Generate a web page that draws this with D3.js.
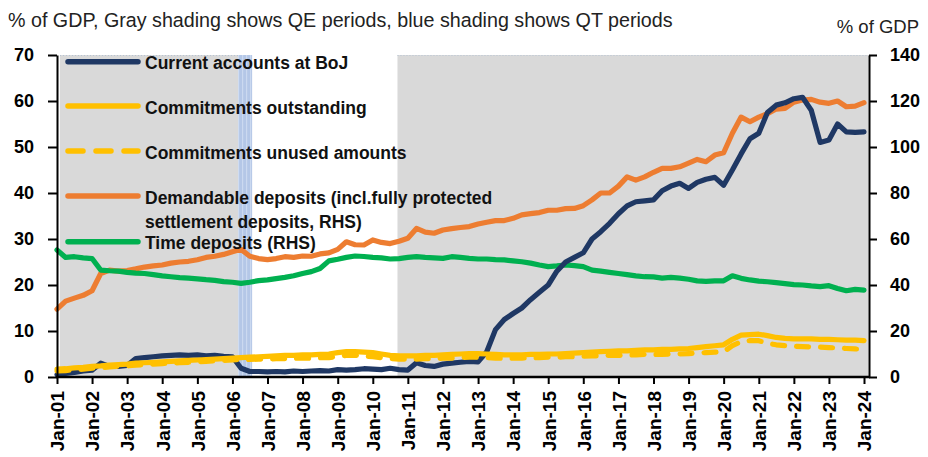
<!DOCTYPE html>
<html><head><meta charset="utf-8">
<script src="https://cdn.jsdelivr.net/npm/d3@7"></script>
<style>
html,body{margin:0;padding:0;background:#fff;}
svg{display:block;font-family:"Liberation Sans",Arial,Helvetica,sans-serif;}
</style></head><body>
<svg id="chart" width="928" height="457"></svg>
<script>
// ---------------- DATA (quarterly: Jan, Apr, Jul, Oct; 2001-01 .. 2024-01) ----------------
const startDate = "2001-01-01";
const endDate = "2024-01-01";

// Current accounts at BoJ (% of GDP, LHS)
const currentAccounts = [
  0.5, 0.8, 1.0, 1.3,   1.5, 3.0, 2.3, 2.3,   2.5, 4.0, 4.2, 4.4,   4.6, 4.7, 4.8, 4.7,
  4.8, 4.6, 4.7, 4.5,   4.4, 1.9, 1.2, 1.2,   1.1, 1.2, 1.1, 1.3,   1.2, 1.3, 1.4, 1.3,
  1.6, 1.5, 1.6, 1.8,   1.7, 1.6, 1.9, 1.6,   1.5, 3.1, 2.5, 2.3,   2.8, 3.0, 3.2, 3.4,
  3.3, 5.5, 10.3, 12.5, 13.8, 15.0, 16.8, 18.4, 20.0, 23.0, 25.0, 26.0, 27.0, 30.0, 31.6, 33.4,
  35.5, 37.2, 38.1, 38.3, 38.5, 40.5, 41.5, 42.1, 41.0, 42.3, 43.0, 43.4, 41.7, 45.0, 48.5, 51.8,
  53.0, 57.5, 59.1, 59.6, 60.5, 60.8, 58.0, 51.0, 51.5, 55.0, 53.3, 53.2, 53.3
];
// Commitments outstanding (% of GDP, LHS)
const commitmentsOutstanding = [
  1.7, 1.8, 2.0, 2.1,   2.3, 2.4, 2.6, 2.7,   2.8, 3.0, 3.1, 3.2,   3.3, 3.4, 3.5, 3.6,
  3.7, 3.8, 3.9, 4.0,   4.1, 4.2, 4.3, 4.4,   4.5, 4.6, 4.7, 4.7,   4.8, 4.8, 4.9, 5.0,
  5.3, 5.5, 5.5, 5.4,   5.3, 5.0, 4.7, 4.6,   4.6, 4.6, 4.7, 4.7,   4.8, 4.9, 5.0, 5.1,
  5.1, 5.0, 4.9, 4.8,   4.8, 4.8, 4.9, 4.9,   5.0, 5.0, 5.1, 5.2,   5.3, 5.4, 5.5, 5.6,
  5.7, 5.7, 5.8, 5.9,   5.9, 6.0, 6.0, 6.1,   6.2, 6.4, 6.6, 6.8,   7.0, 8.2, 9.1, 9.2,
  9.3, 9.0, 8.6, 8.4,   8.3, 8.3, 8.3, 8.2,   8.2, 8.1, 8.0, 8.0,   7.9
];
// Commitments unused amounts (% of GDP, LHS)
const commitmentsUnused = [
  1.3, 1.4, 1.6, 1.7,   1.9, 2.0, 2.2, 2.3,   2.4, 2.6, 2.7, 2.8,   2.9, 3.0, 3.1, 3.2,
  3.3, 3.4, 3.5, 3.6,   3.7, 3.8, 3.8, 3.9,   3.9, 4.0, 4.0, 4.1,   4.1, 4.1, 4.2, 4.2,
  4.5, 4.7, 4.7, 4.6,   4.4, 4.2, 4.0, 3.9,   3.9, 3.9, 4.0, 4.0,   4.1, 4.1, 4.2, 4.3,
  4.3, 4.2, 4.1, 4.1,   4.1, 4.1, 4.2, 4.2,   4.3, 4.3, 4.4, 4.4,   4.5, 4.6, 4.6, 4.7,
  4.7, 4.8, 4.8, 4.9,   4.9, 4.9, 5.0, 5.0,   5.1, 5.2, 5.3, 5.4,   5.5, 6.8, 7.7, 7.9,
  7.9, 7.3, 7.0, 6.8,   6.7, 6.6, 6.5, 6.5,   6.4, 6.3, 6.2, 6.1,   6.0
];
// Demandable deposits incl. fully protected settlement deposits (% of GDP, RHS)
const demandableDeposits = [
  29.5, 33.0, 34.3, 35.5,  37.5, 45.0, 46.5, 46.0,  46.3, 47.0, 47.8, 48.3,  48.7, 49.5, 50.0, 50.3,
  51.0, 52.0, 52.5, 53.3,  54.5, 55.5, 52.5, 51.5,  51.0, 51.5, 52.3, 52.0,  52.6, 52.5, 53.5, 54.0,
  55.5, 58.8, 57.5, 57.4,  59.6, 58.5, 58.0, 59.0,  60.3, 64.6, 63.0, 62.5,  63.9, 64.5, 65.0, 65.4,
  66.5, 67.3, 68.0, 68.0,  69.0, 70.5, 71.0, 71.5,  72.5, 72.5, 73.2, 73.3,  74.5, 77.0, 80.0, 80.0,
  83.0, 87.0, 85.6, 87.0,  89.0, 90.7, 90.7, 91.4,  93.0, 94.6, 93.6, 96.5,  97.5, 106.0, 113.0, 111.0,
  113.0, 114.5, 116.5, 116.8, 119.5, 120.4, 120.7, 119.5, 119.0, 120.0, 117.5, 117.8, 119.3
];
// Time deposits (% of GDP, RHS)
const timeDeposits = [
  55.2, 52.0, 52.3, 51.8,  51.5, 46.5, 46.2, 46.0,  45.5, 45.2, 45.0, 44.5,  44.0, 43.6, 43.2, 43.0,
  42.7, 42.3, 42.0, 41.5,  41.2, 40.7, 41.2, 41.9,  42.2, 42.8, 43.3, 44.0,  45.0, 45.8, 47.2, 50.5,
  51.2, 52.0, 52.6, 52.4,  52.0, 51.8, 51.3, 51.5,  52.0, 52.3, 52.0, 51.8,  51.6, 52.3, 52.0, 51.6,
  51.3, 51.3, 51.0, 50.9,  50.5, 50.1, 49.5, 48.7,  48.0, 48.3, 48.7, 48.4,  48.0, 46.5, 46.0, 45.5,
  45.0, 44.5, 44.0, 43.6,  43.5, 43.0, 43.3, 43.0,  42.5, 41.8, 41.6, 41.8,  41.8, 44.0, 42.9, 42.2,
  41.7, 41.4, 41.0, 40.6,  40.2, 40.0, 39.6, 39.3,  39.7, 38.5, 37.5, 38.1,  37.8
];

const xTickLabels = ["Jan-01","Jan-02","Jan-03","Jan-04","Jan-05","Jan-06","Jan-07","Jan-08","Jan-09","Jan-10","Jan-11","Jan-12",
  "Jan-13","Jan-14","Jan-15","Jan-16","Jan-17","Jan-18","Jan-19","Jan-20","Jan-21","Jan-22","Jan-23","Jan-24"];
const leftTicks = [0, 10, 20, 30, 40, 50, 60, 70];
const rightTicks = [0, 20, 40, 60, 80, 100, 120, 140];

const qePeriods = [["2001-02-01", "2006-03-01"], ["2010-09-15", "2024-02-15"]];
const qtPeriods = [["2006-03-01", "2006-07-25"]];

const titleText = "% of GDP, Gray shading shows QE periods, blue shading shows QT periods";
const rightAxisTitle = "% of GDP";

const seriesNames = ["Current accounts at BoJ", "Commitments outstanding", "Commitments unused amounts",
  ["Demandable deposits (incl.fully protected", "settlement deposits, RHS)"], "Time deposits (RHS)"];

// ---------------- LAYOUT ----------------
const L = 57, R = 869, T = 55, B = 377;
const svg = d3.select("#chart");
const parse = d3.utcParse("%Y-%m-%d");
const dates = d3.utcMonth.every(3).range(parse(startDate), d3.utcMonth.offset(parse(endDate), 1));

const x = d3.scaleUtc().domain([parse(startDate), parse(endDate)]).range([L, 864]);
const yL = d3.scaleLinear().domain([0, 70]).range([B, T]);
const yR = d3.scaleLinear().domain([0, 140]).range([B, T]);

// pattern for QT shading
const defs = svg.append("defs");
const pat = defs.append("pattern").attr("id", "qt").attr("patternUnits", "userSpaceOnUse")
  .attr("width", 4).attr("height", 4);
pat.append("rect").attr("width", 4).attr("height", 4).attr("fill", "#b4c7e7");
pat.append("rect").attr("x", 2).attr("width", 1.2).attr("height", 4).attr("fill", "#cbd9f0");

// shading
svg.append("g").selectAll("rect").data(qePeriods).join("rect")
  .attr("x", d => x(parse(d[0]))).attr("y", T)
  .attr("width", d => Math.min(x(parse(d[1])), R) - x(parse(d[0])))
  .attr("height", B - T).attr("fill", "#d9d9d9");
svg.append("g").selectAll("line").data(qePeriods).join("line")
  .attr("x1", d => x(parse(d[0]))).attr("x2", d => Math.min(x(parse(d[1])), R))
  .attr("y1", T + 0.5).attr("y2", T + 0.5)
  .attr("stroke", "#b7c4d4").attr("stroke-width", 1).attr("stroke-dasharray", "1,2");
svg.append("g").selectAll("rect").data(qtPeriods).join("rect")
  .attr("x", d => x(parse(d[0]))).attr("y", T)
  .attr("width", d => x(parse(d[1])) - x(parse(d[0])))
  .attr("height", B - T).attr("fill", "url(#qt)");

// lines
const colors = { navy: "#1f3864", yellow: "#ffc000", orange: "#ed7d31", green: "#00b050" };
function drawLine(vals, scale, color, dashed) {
  const line = d3.line().x((d, i) => x(dates[i])).y(d => scale(d));
  svg.append("path").datum(vals).attr("d", line).attr("fill", "none")
    .attr("stroke", color).attr("stroke-width", 5.2)
    .attr("stroke-linecap", "round").attr("stroke-linejoin", "round")
    .attr("stroke-dasharray", dashed ? "12,12" : null);
}
drawLine(demandableDeposits, yR, colors.orange, false);
drawLine(timeDeposits, yR, colors.green, false);
drawLine(currentAccounts, yL, colors.navy, false);
drawLine(commitmentsUnused, yL, colors.yellow, true);
drawLine(commitmentsOutstanding, yL, colors.yellow, false);

// axes
const fontAxis = "18px";
const gL = svg.append("g").attr("transform", `translate(${L},0)`)
  .call(d3.axisLeft(yL).tickValues(leftTicks).tickSize(9).tickSizeOuter(0).tickPadding(14));
const gR = svg.append("g").attr("transform", `translate(${R},0)`)
  .call(d3.axisRight(yR).tickValues(rightTicks).tickSize(8).tickSizeOuter(0).tickPadding(13));
const gB = svg.append("g").attr("transform", `translate(0,${B})`)
  .call(d3.axisBottom(x).tickValues(xTickLabels.map((s, i) => d3.utcYear.offset(parse(startDate), i)))
    .tickSize(7).tickSizeOuter(0).tickFormat((d, i) => xTickLabels[i]));
[gL, gR, gB].forEach(g => {
  g.selectAll("path.domain").attr("stroke", "#000").attr("stroke-width", 2);
  g.selectAll(".tick line").attr("stroke", "#000").attr("stroke-width", 2);
  g.selectAll("text").attr("fill", "#000").attr("font-weight", "bold")
    .attr("font-family", "'Liberation Sans', Arial, sans-serif").attr("font-size", fontAxis);
});
gB.select("path.domain").remove();
gB.append("line").attr("x1", L - 1).attr("x2", R + 1).attr("y1", 0).attr("y2", 0)
  .attr("stroke", "#000").attr("stroke-width", 2.5);
gB.selectAll(".tick text").attr("transform", "rotate(-90)")
  .attr("text-anchor", "end").attr("x", -14).attr("y", 0).attr("dy", "0.36em")
  .attr("font-size", "19px");

// titles
svg.append("text").attr("x", 8).attr("y", 27).attr("font-size", "19.7px").attr("fill", "#222")
  .text(titleText);
svg.append("text").attr("x", 919).attr("y", 33).attr("text-anchor", "end")
  .attr("font-size", "18.5px").attr("fill", "#222").text(rightAxisTitle);

// legend
const legendColors = [colors.navy, colors.yellow, colors.yellow, colors.orange, colors.green];
const legendDashed = [false, false, true, false, false];
const legendY = [61.7, 106, 151, 196, 241.7];
const lg = svg.append("g");
seriesNames.forEach((name, i) => {
  lg.append("line").attr("x1", 68).attr("x2", 138).attr("y1", legendY[i]).attr("y2", legendY[i])
    .attr("stroke", legendColors[i]).attr("stroke-width", 5.5).attr("stroke-linecap", "round")
    .attr("stroke-dasharray", legendDashed[i] ? "15,13" : null);
  const lines = Array.isArray(name) ? name : [name];
  const t = lg.append("text").attr("x", 145).attr("y", legendY[i] + 7.5)
    .attr("font-size", "17.5px").attr("font-weight", "bold").attr("fill", "#111");
  lines.forEach((s, j) => t.append("tspan").attr("x", 145).attr("dy", j === 0 ? 0 : 24).text(s));
});
</script>
</body></html>
